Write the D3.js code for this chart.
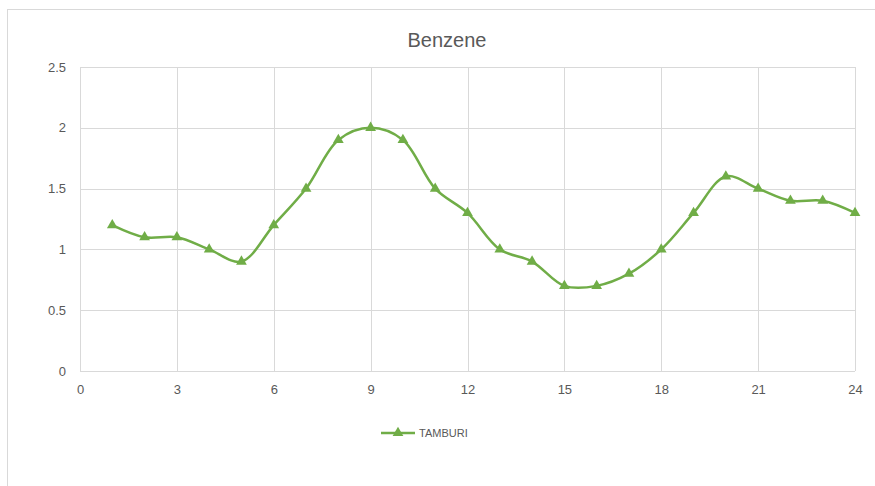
<!DOCTYPE html>
<html>
<head>
<meta charset="utf-8">
<script src="https://cdn.jsdelivr.net/npm/d3@7"></script>
<style>
  body { margin: 0; background: #fff; }
  text { font-family: "Liberation Sans", Arial, sans-serif; fill: #595959; }
</style>
</head>
<body>
<div class="chart_container"></div>
<script>
// data
const hours = d3.range(1, 25)
const benzene = [1.2, 1.1, 1.1, 1.0, 0.9, 1.2, 1.5, 1.9, 2.0, 1.9, 1.5, 1.3,
                 1.0, 0.9, 0.7, 0.7, 0.8, 1.0, 1.3, 1.6, 1.5, 1.4, 1.4, 1.3]
const xTicks = [0, 3, 6, 9, 12, 15, 18, 21, 24]
const yTicks = [0, 0.5, 1, 1.5, 2, 2.5]
const seriesName = 'TAMBURI'
const chartTitle = 'Benzene'

const data = hours.map((h, i) => ({hour: h, value: benzene[i]}))

const svg_width = 875
const svg_height = 486
const green = '#70AD47'

const svg = d3.select('.chart_container').append('svg')
    .attr('width', svg_width).attr('height', svg_height)

// chart border
svg.append('rect')
    .attr('x', 7.5).attr('y', 9.5)
    .attr('width', svg_width).attr('height', svg_height)
    .attr('fill', 'none').attr('stroke', '#d9d9d9')

const xScale = d3.scaleLinear([0, 24], [80, 855])
const yScale = d3.scaleLinear([0, 2.5], [371, 67])

// gridlines
svg.append('g').selectAll('line').data(yTicks).join('line')
    .attr('x1', xScale(0)).attr('x2', xScale(24))
    .attr('y1', d => Math.round(yScale(d)) + 0.5).attr('y2', d => Math.round(yScale(d)) + 0.5)
    .attr('stroke', '#d9d9d9')
svg.append('g').selectAll('line').data(xTicks).join('line')
    .attr('x1', d => Math.round(xScale(d)) + 0.5).attr('x2', d => Math.round(xScale(d)) + 0.5)
    .attr('y1', yScale(0)).attr('y2', yScale(2.5))
    .attr('stroke', '#d9d9d9')

// axes labels
const xAxis = d3.axisBottom(xScale).tickValues(xTicks).tickSize(0).tickPadding(14)
const xAxisDraw = svg.append('g').attr('transform', `translate(0,${yScale(0)})`).call(xAxis)
xAxisDraw.select('.domain').remove()
xAxisDraw.selectAll('text').style('font-size', '13px').attr('fill', '#595959')

const yAxis = d3.axisLeft(yScale).tickValues(yTicks).tickFormat(d3.format('~g'))
    .tickSize(0).tickPadding(14)
const yAxisDraw = svg.append('g').attr('transform', `translate(${xScale(0)},0)`).call(yAxis)
yAxisDraw.select('.domain').remove()
yAxisDraw.selectAll('text').style('font-size', '13px').attr('fill', '#595959')

// title
svg.append('text')
    .attr('x', 447).attr('y', 47)
    .attr('text-anchor', 'middle')
    .style('font-size', '20px')
    .text(chartTitle)

// line
const line = d3.line()
    .x(d => xScale(d.hour))
    .y(d => yScale(d.value))
    .curve(d3.curveCatmullRom.alpha(0.5))

svg.append('path').datum(data)
    .attr('d', line)
    .attr('fill', 'none')
    .attr('stroke', green)
    .attr('stroke-width', 2.5)

const tri = d3.symbol().type(d3.symbolTriangle).size(50)
svg.append('g').selectAll('path').data(data).join('path')
    .attr('d', tri)
    .attr('transform', d => `translate(${xScale(d.hour)},${yScale(d.value)})`)
    .attr('fill', green)

// legend
const legend = svg.append('g').attr('transform', 'translate(381,433)')
legend.append('line').attr('x1', 0).attr('x2', 34).attr('y1', 0).attr('y2', 0)
    .attr('stroke', green).attr('stroke-width', 2.5)
legend.append('path').attr('d', tri).attr('transform', 'translate(17,0)').attr('fill', green)
legend.append('text').attr('x', 38).attr('y', 4).style('font-size', '11px').text(seriesName)
</script>
</body>
</html>
